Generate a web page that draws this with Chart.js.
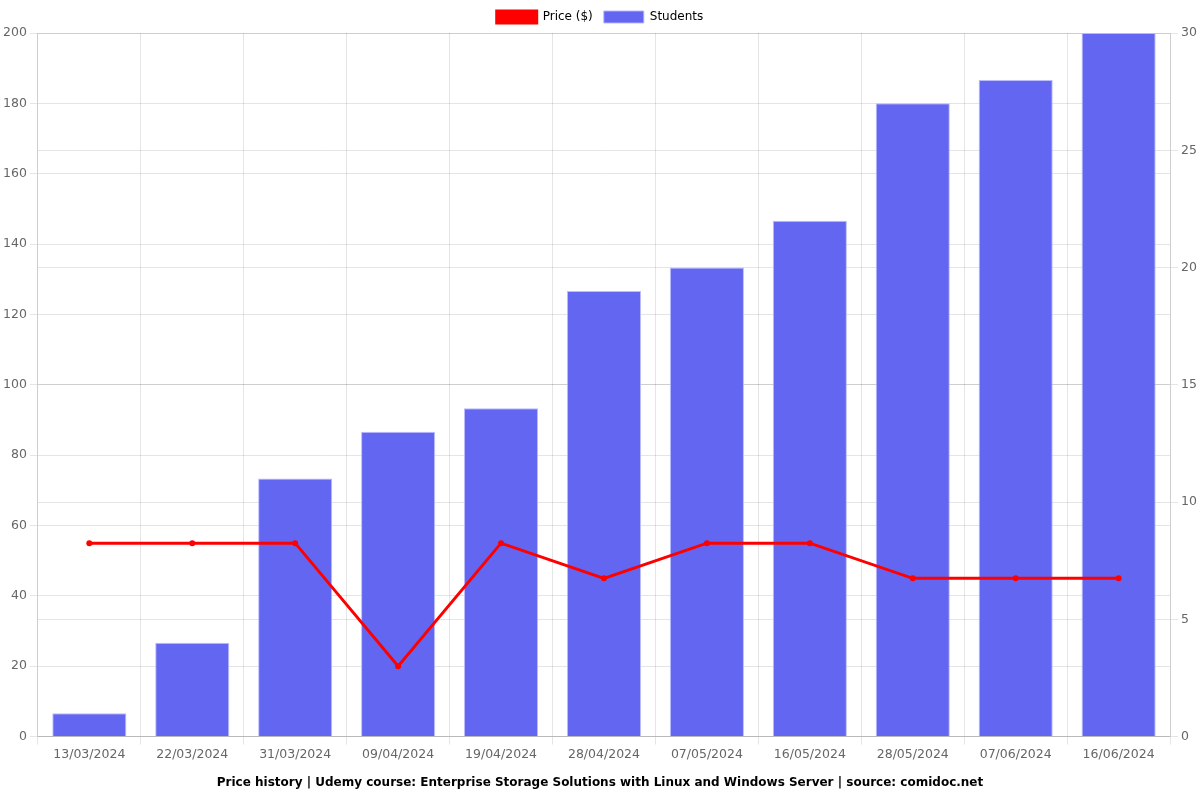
<!DOCTYPE html>
<html>
<head>
<meta charset="utf-8">
<script src="https://cdn.jsdelivr.net/npm/chart.js@4"></script>
<style>
  html, body { margin: 0; padding: 0; background: #fff; }
  #wrap { width: 1200px; height: 800px; }
</style>
</head>
<body>
<div id="wrap"><canvas id="chart"></canvas></div>
<script>
const labels = ['13/03/2024', '22/03/2024', '31/03/2024', '09/04/2024', '19/04/2024', '28/04/2024',
  '07/05/2024', '16/05/2024', '28/05/2024', '07/06/2024', '16/06/2024'];
const price = [54.99, 54.99, 54.99, 19.99, 54.99, 44.99, 54.99, 54.99, 44.99, 44.99, 44.99];
const students = [1, 4, 11, 13, 14, 19, 20, 22, 27, 28, 30];

Chart.defaults.font.family = 'DejaVu Sans';
Chart.defaults.font.size = 12;
Chart.defaults.color = '#666';

const ctx = document.getElementById('chart').getContext('2d');
new Chart(ctx, {
  type: 'bar',
  data: {
    labels,
    datasets: [
      {
        type: 'line', label: 'Price ($)', data: price, yAxisID: 'y',
        borderColor: '#ff0000', backgroundColor: '#ff0000',
        borderWidth: 3, pointRadius: 3, pointBorderWidth: 0, tension: 0
      },
      {
        type: 'bar', label: 'Students', data: students, yAxisID: 'y1',
        backgroundColor: '#6366f1', borderColor: 'rgba(180,182,255,0.9)', borderWidth: 1
      }
    ]
  },
  options: {
    responsive: true,
    maintainAspectRatio: false,
    animation: false,
    plugins: {
      legend: { position: 'top', labels: { color: '#000', boxWidth: 40, boxHeight: 12, padding: 11 } },
      title: {
        display: true, position: 'bottom', color: '#000',
        text: 'Price history | Udemy course: Enterprise Storage Solutions with Linux and Windows Server | source: comidoc.net',
        font: { weight: 'bold', size: 12 }
      }
    },
    scales: {
      x: { grid: { offset: true }, ticks: { font: { size: 12.5 } } },
      y: { position: 'left', min: 0, max: 200, ticks: { stepSize: 20, font: { size: 12.5 } } },
      y1: { position: 'right', min: 0, max: 30, ticks: { stepSize: 5, font: { size: 12.5 } } }
    }
  }
});
</script>
</body>
</html>
